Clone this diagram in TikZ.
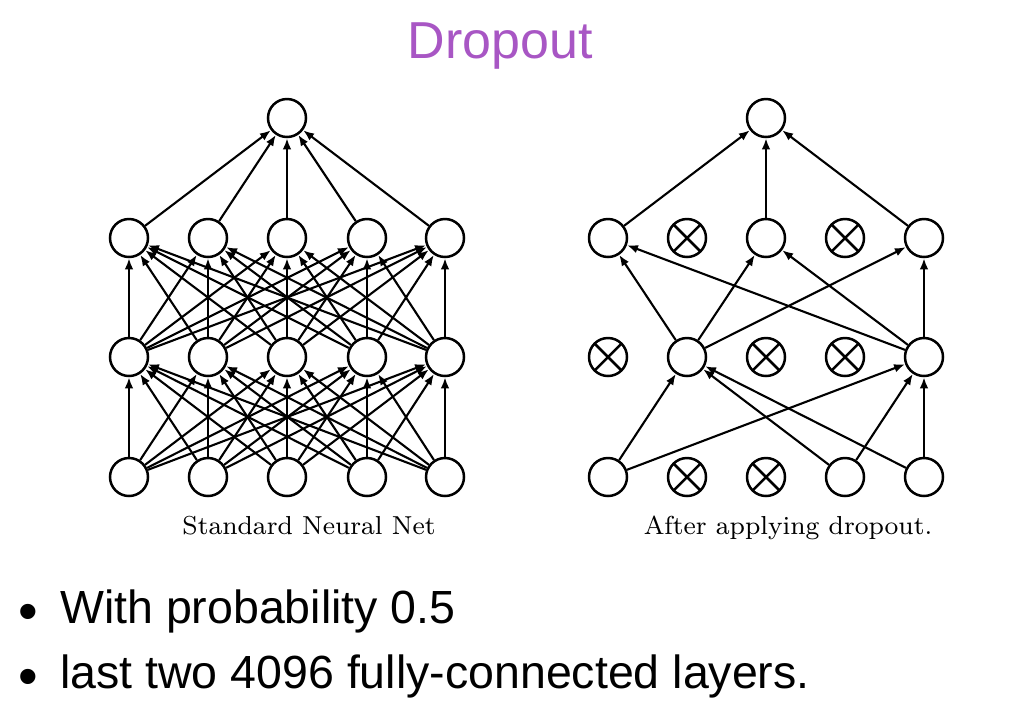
\documentclass[tikz,border=0pt]{standalone}
\usepackage{fontspec}
\newfontfamily\slidefont{Liberation Sans}
\newfontfamily\capfont{lmroman8-regular}[Extension=.otf]
\usetikzlibrary{positioning, calc, arrows.meta}
\definecolor{titlepurple}{RGB}{168,86,196}

\begin{document}
\begin{tikzpicture}[x=1pt, y=-1pt, >={Latex[length=11pt,width=8.5pt]},
    unit/.style={circle, draw, line width=2.5pt, minimum size=38pt, inner sep=0pt},
    dropped/.style={unit, path picture={
        \draw[line width=2.5pt] (path picture bounding box.north west) -- (path picture bounding box.south east)
                                (path picture bounding box.north east) -- (path picture bounding box.south west);}},
    link/.style={->, line width=2.1pt},
    caption/.style={font=\capfont\fontsize{26}{30}\selectfont, anchor=base},
    bullettext/.style={font=\slidefont\fontsize{46.5}{56}\selectfont, anchor=base west, inner sep=0pt}]

    % Page
    \useasboundingbox (0,0) rectangle (1030,716);

    % Title
    \node[font=\slidefont\fontsize{52}{62}\selectfont, text=titlepurple, anchor=base] (title) at (500,58) {Dropout};

    % Standard network
    \foreach \y/\r in {477/1, 357/2, 238/3} {
        \foreach \x/\c in {129/1, 208/2, 287/3, 367/4, 445/5} {
            \node[unit] (l-\r-\c) at (\x,\y) {};
        }
    }
    \node[unit] (l-out) at (287,118) {};

    \foreach \r/\s in {1/2, 2/3} {
        \foreach \a in {1,...,5} {
            \foreach \b in {1,...,5} {
                \draw[link] (l-\r-\a) -- (l-\s-\b);
            }
        }
    }
    \foreach \a in {1,...,5} {
        \draw[link] (l-3-\a) -- (l-out);
    }

    % Thinned network
    \foreach \c/\k in {1/unit, 2/dropped, 3/dropped, 4/unit, 5/unit} {
        \node[\k] (r-1-\c) at ({608+79*(\c-1)},477) {};
    }
    \foreach \c/\k in {1/dropped, 2/unit, 3/dropped, 4/dropped, 5/unit} {
        \node[\k] (r-2-\c) at ({608+79*(\c-1)},357) {};
    }
    \foreach \c/\k in {1/unit, 2/dropped, 3/unit, 4/dropped, 5/unit} {
        \node[\k] (r-3-\c) at ({608+79*(\c-1)},238) {};
    }
    \node[unit] (r-out) at (766,118) {};

    \foreach \a/\b in {1/2, 1/5, 4/2, 4/5, 5/2, 5/5} {
        \draw[link] (r-1-\a) -- (r-2-\b);
    }
    \foreach \a/\b in {2/1, 2/3, 2/5, 5/1, 5/3, 5/5} {
        \draw[link] (r-2-\a) -- (r-3-\b);
    }
    \foreach \a in {1,3,5} {
        \draw[link] (r-3-\a) -- (r-out);
    }

    % Captions
    \node[caption] (cap-std) at (309,534) {Standard Neural Net};
    \node[caption] (cap-drop) at (788,534) {After applying dropout.};

    % Bullet points
    \node[font=\slidefont\fontsize{56}{60}\selectfont, anchor=base, inner sep=0pt] (dot-1) at (28,630) {\textbullet};
    \node[bullettext] (item-1) at (60,623) {With probability 0.5};
    \node[font=\slidefont\fontsize{56}{60}\selectfont, anchor=base, inner sep=0pt] (dot-2) at (28,695) {\textbullet};
    \node[bullettext] (item-2) at (60,688) {last two 4096 fully-connected layers.};

\end{tikzpicture}
\end{document}
